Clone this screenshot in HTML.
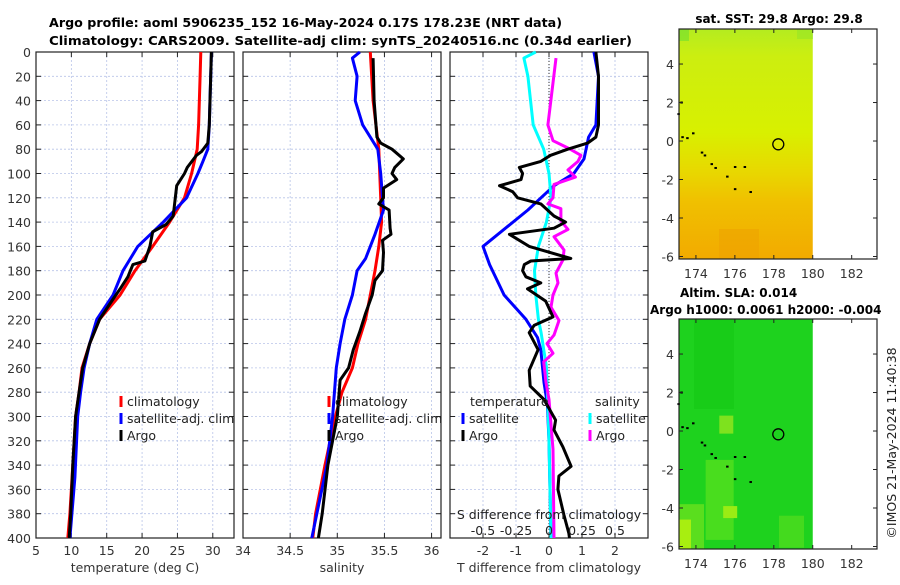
<!DOCTYPE html>
<html><head><meta charset="utf-8"><style>
body{margin:0;background:#fff;}
svg{font-family:"DejaVu Sans","Liberation Sans",sans-serif;}
</style></head><body>
<svg id="s" width="900" height="580" viewBox="0 0 900 580" xmlns="http://www.w3.org/2000/svg">
<defs>
<linearGradient id="sst" x1="0" y1="0" x2="0" y2="1">
<stop offset="0" stop-color="#b4ec20"/><stop offset="0.12" stop-color="#ccee10"/><stop offset="0.45" stop-color="#d8f000"/><stop offset="0.62" stop-color="#e8d800"/><stop offset="0.75" stop-color="#f0c000"/><stop offset="1" stop-color="#f2aa00"/>
</linearGradient>
<clipPath id="c1"><rect x="679" y="29" width="134" height="230"/></clipPath>
<clipPath id="c2"><rect x="679" y="319" width="134" height="230"/></clipPath>
</defs>
<text x="49" y="27" font-size="12.5" font-weight="bold" textLength="513" lengthAdjust="spacingAndGlyphs">Argo profile: aoml 5906235_152 16-May-2024 0.17S 178.23E (NRT data)</text>
<text x="49" y="45" font-size="12.5" font-weight="bold" textLength="583" lengthAdjust="spacingAndGlyphs">Climatology: CARS2009. Satellite-adj clim: synTS_20240516.nc (0.34d earlier)</text>
<g id="g"></g>
</svg>
<script>
// ---- data ----
const tempClimDepth=[0,20,60,80,100,120,140,160,180,200,220,240,260,280,300,340,380,400];
const tempClim=[28.3,28.2,28.0,27.8,27.0,26.0,23.9,21.5,19.0,16.9,14.0,12.6,11.5,11.1,10.6,10.2,9.8,9.5];
const tempSatDepth=[0,20,60,80,90,100,120,140,160,180,200,220,240,260,280,300,350,400];
const tempSat=[29.8,29.7,29.5,29.3,28.6,27.9,26.3,23.0,19.4,17.3,15.9,13.6,12.6,11.8,11.3,10.9,10.5,9.8];
const tempArgoDepth=[0,20,60,75,82,85,95,100,110,125,135,142,148,160,172,175,185,195,205,220,240,260,280,300,340,380,400];
const tempArgo=[29.8,29.7,29.5,29.3,28.4,27.7,26.4,26.0,24.9,24.6,24.4,23.4,21.5,21.1,20.4,18.7,18.0,16.9,15.7,14.0,12.6,11.6,11.1,10.6,10.2,9.9,9.7];

const salClimDepth=[0,40,80,120,140,160,180,200,220,240,260,280,300,340,380,400];
const salClim=[35.35,35.38,35.44,35.46,35.47,35.44,35.40,35.35,35.30,35.22,35.16,35.05,34.98,34.87,34.77,34.74];
const salSatDepth=[0,5,20,40,60,80,100,120,130,150,170,180,200,220,240,260,300,340,400];
const salSat=[35.24,35.16,35.21,35.19,35.27,35.43,35.46,35.48,35.49,35.40,35.30,35.21,35.16,35.08,35.03,34.99,34.95,34.89,34.73];
const salArgoDepth=[5,40,70,75,80,88,95,100,105,112,120,125,130,145,150,155,165,180,188,200,215,230,245,260,270,300,340,380,400];
const salArgo=[35.38,35.39,35.42,35.46,35.58,35.70,35.61,35.58,35.63,35.49,35.49,35.44,35.55,35.56,35.57,35.48,35.49,35.48,35.40,35.37,35.30,35.24,35.17,35.12,35.03,35.00,34.90,34.84,34.80];

const dTSatDepth=[0,20,60,70,88,100,110,130,160,175,200,220,235,245,272,290,320,400];
const dTSat=[1.36,1.5,1.42,1.2,1.06,0.75,0.15,-0.64,-2.0,-1.8,-1.36,-0.7,-0.35,-0.25,-0.15,-0.05,0,0.06];
const dTArgoDepth=[0,20,60,70,75,80,85,90,95,100,105,110,115,120,125,135,140,145,150,160,170,172,175,180,185,190,195,205,218,225,231,245,262,275,286,303,311,325,341,349,360,381,396,400];
const dTArgo=[1.42,1.5,1.5,1.42,1.17,0.57,0.05,-0.25,-0.9,-0.8,-0.85,-1.5,-1.1,-0.95,-0.25,0.15,0.5,0.15,-1.2,-0.6,0.66,-0.55,-0.75,-0.8,-0.7,-0.25,-0.65,-0.1,0.12,-0.45,-0.6,-0.33,-0.6,-0.57,-0.15,0.2,0.15,0.42,0.67,0.3,0.27,0.45,0.6,0.62];
const dSSatDepth=[0,5,20,60,80,100,120,140,160,180,200,220,231,259,286,320,400];
const dSSat=[-0.1,-0.19,-0.16,-0.12,-0.04,0,0.015,-0.02,-0.08,-0.11,-0.1,-0.08,-0.06,-0.02,-0.01,0,0.015];
const dSArgoDepth=[5,60,73,79,85,90,97,103,109,120,125,129,139,146,152,163,171,182,190,200,210,221,233,240,248,255,272,286,327,400];
const dSArgo=[0.053,-0.008,0.03,0.144,0.242,0.22,0.144,0.2,0.038,0.03,-0.008,0.09,0.09,0.144,0.038,0.114,0.106,0.053,0.068,0.03,0.015,0.076,0.038,-0.015,0.03,-0.04,-0.023,0,0.03,0.038];

const depthTicks=[0,20,40,60,80,100,120,140,160,180,200,220,240,260,280,300,320,340,360,380,400];
const tempTicks=[5,10,15,20,25,30];
const salTicks=[34,34.5,35,35.5,36];
const dTTicks=[-2,-1,0,1,2];
const dSTicks=["-0.5","-0.25","0","0.25","0.5"];
const dSTickVals=[-0.5,-0.25,0,0.25,0.5];
const latTicks=[4,2,0,-2,-4,-6];
const lonTicks=[174,176,178,180,182];
const argoLon=178.23, argoLat=-0.17;

// ---- helpers ----
const NS="http://www.w3.org/2000/svg";
const G=document.getElementById('g');
const FS=12.5;
function mk(tag,attrs,parent){const e=document.createElementNS(NS,tag);for(const k in attrs)e.setAttribute(k,attrs[k]);(parent||G).appendChild(e);return e;}
const Y0=52,Y1=538;
const yD=d=>Y0+(d/400)*(Y1-Y0);
function panel(name,x0,x1,xmin,xmax,ticks,labels,xlabel,showY){
  const sx=v=>x0+(v-xmin)/(xmax-xmin)*(x1-x0);
  const g=mk('g',{});
  
  
  depthTicks.forEach(d=>{const l=mk('line',{x1:x0,x2:x1,y1:yD(d),y2:yD(d),stroke:'#b8c4e8','stroke-width':0.8,'stroke-dasharray':'2,2'},g);
    
    mk('line',{x1:x0,x2:x0+5,y1:yD(d),y2:yD(d),stroke:'#222'},g);mk('line',{x1:x1-5,x2:x1,y1:yD(d),y2:yD(d),stroke:'#222'},g);
    if(showY){const t=mk('text',{x:x0-5,y:yD(d)+5,'text-anchor':'end','font-size':FS,fill:'#333'},g);t.textContent=d;
      }
  });
  ticks.forEach((v,i)=>{const x=sx(v);
    if(x>x0+1&&x<x1-1){const l=mk('line',{x1:x,x2:x,y1:Y0,y2:Y1,stroke:'#b8c4e8','stroke-width':0.8,'stroke-dasharray':'2,2'},g);
      }
    mk('line',{x1:x,x2:x,y1:Y1,y2:Y1-5,stroke:'#222'},g);mk('line',{x1:x,x2:x,y1:Y0,y2:Y0+5,stroke:'#222'},g);
    const t=mk('text',{x:x,y:555,'text-anchor':'middle','font-size':FS,fill:'#333'},g);t.textContent=labels[i];
    
  });
  const r=mk('rect',{x:x0,y:Y0,width:x1-x0,height:Y1-Y0,fill:'none',stroke:'#222','stroke-width':1.2},g);
  
  const xl=mk('text',{x:(x0+x1)/2,y:572,'text-anchor':'middle','font-size':FS,fill:'#333'},g);xl.textContent=xlabel;
  
  return {sx,g};
}
function line(p,depths,vals,color,name,w){
  const pts=vals.map((v,i)=>p.sx(v).toFixed(1)+','+yD(depths[i]).toFixed(1)).join(' ');
  const e=mk('polyline',{points:pts,fill:'none',stroke:color,'stroke-width':w||3,'stroke-linejoin':'round'},p.g);
  
  
}
function legend(p,x,y,color,label,name){
  const m=mk('line',{x1:x,x2:x,y1:y-10,y2:y+1,stroke:color,'stroke-width':3},p.g);
  
  
  const t=mk('text',{x:x+6,y:y,'font-size':FS,fill:'#222'},p.g);t.textContent=label;
  
  
}
// temperature panel
const pT=panel('temperature-panel',36,234,5,33,tempTicks,tempTicks,'temperature (deg C)',true);
line(pT,tempClimDepth,tempClim,'#f00','temp-climatology-line');
line(pT,tempSatDepth,tempSat,'#00f','temp-satellite-line');
line(pT,tempArgoDepth,tempArgo,'#000','temp-argo-line');
legend(pT,121,406,'#f00','climatology','legend-climatology');
legend(pT,121,423,'#00f','satellite-adj. clim','legend-satellite');
legend(pT,121,440,'#000','Argo','legend-argo');
// salinity panel
const pS=panel('salinity-panel',243,441,34,36.1,salTicks,salTicks,'salinity',false);
line(pS,salClimDepth,salClim,'#f00','sal-climatology-line');
line(pS,salSatDepth,salSat,'#00f','sal-satellite-line');
line(pS,salArgoDepth,salArgo,'#000','sal-argo-line');
legend(pS,329,406,'#f00','climatology','legend-climatology');
legend(pS,329,423,'#00f','satellite-adj. clim','legend-satellite');
legend(pS,329,440,'#000','Argo','legend-argo');
// difference panel
const pD=panel('difference-panel',450,648,-3,3,dTTicks,dTTicks,'T difference from climatology',false);
const zx=pD.sx(0);
const zl=mk('line',{x1:zx,x2:zx,y1:Y0,y2:Y1,stroke:'#333','stroke-width':1,'stroke-dasharray':'1,2'},pD.g);

const sS=v=>v*4;
line(pD,dTSatDepth,dTSat,'#00f','dT-satellite-line');
line(pD,dSSatDepth,dSSat.map(sS),'#0ff','dS-satellite-line');
line(pD,dSArgoDepth,dSArgo.map(sS),'#f0f','dS-argo-line');
line(pD,dTArgoDepth,dTArgo,'#000','dT-argo-line');
let tt=mk('text',{x:470,y:406,'font-size':FS,fill:'#222'},pD.g);tt.textContent='temperature';

tt=mk('text',{x:595,y:406,'font-size':FS,fill:'#222'},pD.g);tt.textContent='salinity';

legend(pD,463,423,'#00f','satellite','legend-t-satellite');
legend(pD,463,440,'#000','Argo','legend-t-argo');
legend(pD,590,423,'#0ff','satellite','legend-s-satellite');
legend(pD,590,440,'#f0f','Argo','legend-s-argo');
tt=mk('text',{x:549,y:519,'text-anchor':'middle','font-size':FS,fill:'#222'},pD.g);tt.textContent='S difference from climatology';

dSTickVals.forEach((v,i)=>{const t=mk('text',{x:pD.sx(sS(v)),y:535,'text-anchor':'middle','font-size':FS,fill:'#222'},pD.g);t.textContent=dSTicks[i];
  });

// maps
const coast=[[173.1,1.4],[173.25,2.0],[173.3,0.2],[173.55,0.15],[173.85,0.4],[174.3,-0.6],[174.45,-0.75],[174.8,-1.2],[175.0,-1.4],[175.6,-1.85],[176.0,-1.35],[176.5,-1.35],[176.0,-2.5],[176.8,-2.65]];
function map(name,top,clip,fillFn){
  const L=679,R=877,T=top,B=top+230;
  const lonMin=173.13,lonMax=183.3,latMax=5.82,latMin=-6.13;
  const mx=v=>L+(v-lonMin)/(lonMax-lonMin)*(R-L);
  const my=v=>T+(latMax-v)/(latMax-latMin)*(B-T);
  const g=mk('g',{});
  
  
  const fg=mk('g',{'clip-path':'url(#'+clip+')'},g);
  fillFn(fg,L,T,mx(180)-L,B-T,mx,my);
  coast.forEach(c=>{const d=mk('rect',{x:mx(c[0])-1,y:my(c[1])-1,width:2.5,height:2,fill:'#000'},g);
    });
  const ci=mk('circle',{cx:mx(argoLon),cy:my(argoLat),r:5.5,fill:'none',stroke:'#000','stroke-width':1.3},g);
  
  const fr=mk('rect',{x:L,y:T,width:R-L,height:B-T,fill:'none',stroke:'#222','stroke-width':1.2},g);
  
  latTicks.forEach(v=>{const y=my(v);mk('line',{x1:L,x2:L+4,y1:y,y2:y,stroke:'#222'},g);mk('line',{x1:R-4,x2:R,y1:y,y2:y,stroke:'#222'},g);
    const t=mk('text',{x:L-5,y:y+5,'text-anchor':'end','font-size':FS,fill:'#333'},g);t.textContent=v;
    });
  lonTicks.forEach(v=>{const x=mx(v);mk('line',{x1:x,x2:x,y1:B,y2:B-4,stroke:'#222'},g);mk('line',{x1:x,x2:x,y1:T,y2:T+4,stroke:'#222'},g);
    const t=mk('text',{x:x,y:B+19,'text-anchor':'middle','font-size':FS,fill:'#333'},g);t.textContent=v;
    });
}
map('sst-map',29,'c1',(g,x,y,w,h)=>{mk('rect',{x,y,width:w,height:h,fill:'url(#sst)'},g);
  mk('rect',{x:x,y:y,width:10,height:12,fill:'#6ee030',opacity:0.6},g);
  mk('rect',{x:x+118,y:y,width:16,height:10,fill:'#90e428',opacity:0.5},g);
  mk('rect',{x:x+40,y:y+200,width:40,height:30,fill:'#eda000',opacity:0.5},g);});
map('sla-map',319,'c2',(g,x,y,w,h,mx,my)=>{mk('rect',{x,y,width:w,height:h,fill:'#1ed21e'},g);
  mk('rect',{x:x+15,y:y,width:40,height:90,fill:'#14c814',opacity:0.6},g);
  mk('rect',{x:mx(174.5),y:my(-1.5),width:28,height:80,fill:'#4ede1e',opacity:0.9},g);
  mk('rect',{x:x,y:my(-3.8),width:25,height:60,fill:'#5ade1e'},g);
  mk('rect',{x:x,y:my(-4.6),width:12,height:40,fill:'#a8ee10'},g);
  mk('rect',{x:mx(175.4),y:my(-3.9),width:14,height:12,fill:'#9aec14'},g);
  mk('rect',{x:x+100,y:my(-4.4),width:25,height:32,fill:'#44da1e'},g);
  mk('rect',{x:mx(175.2),y:my(0.8),width:14,height:18,fill:'#7ee21e'},g);});
let mt=mk('text',{x:779,y:23,'text-anchor':'middle','font-size':12,'font-weight':'bold'});mt.textContent='sat. SST: 29.8 Argo: 29.8';

mt=mk('text',{x:680,y:297,'font-size':12,'font-weight':'bold'});mt.textContent='Altim. SLA: 0.014';

mt=mk('text',{x:650,y:314,'font-size':12,'font-weight':'bold'});mt.textContent='Argo h1000: 0.0061 h2000: -0.004';

mt=mk('text',{x:0,y:0,'font-size':FS,fill:'#222','text-anchor':'middle',transform:'translate(896,443) rotate(-90)'});mt.textContent='©IMOS 21-May-2024 11:40:38';

</script>
</body></html>
